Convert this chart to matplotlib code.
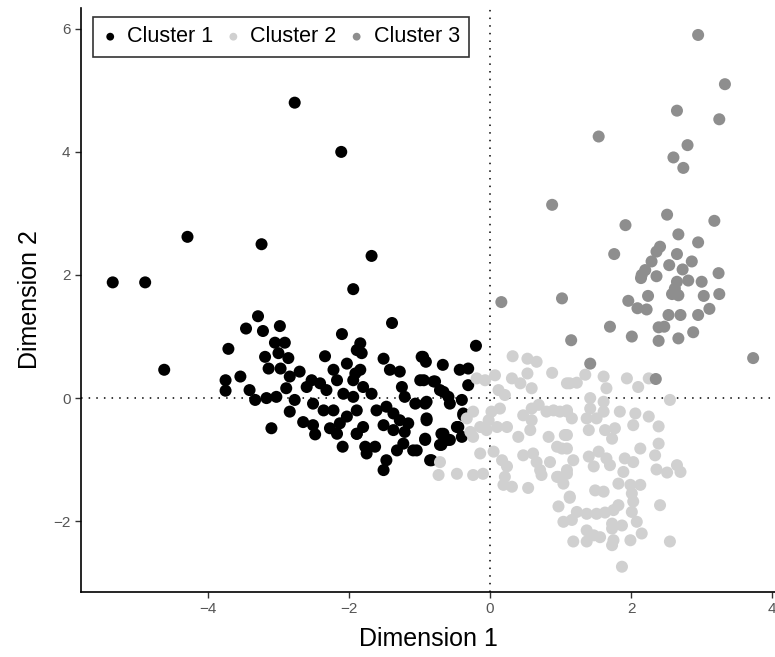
import matplotlib.pyplot as plt
import numpy as np

plt.rcParams['font.family'] = ['Liberation Sans', 'DejaVu Sans']

# 三个聚类的坐标
c1_x = [-2.77, -2.11, -4.29, -3.24, -1.68, -5.35, -4.89, -1.94, -4.62, -1.39, -0.20,
        -3.29, -3.46, -3.22, -2.98, -3.71, -3.05, -2.91, -3.19, -3.00, -2.86, -3.14, -2.97,
        -3.54, -3.75, -3.75, -3.41, -3.33, -3.17, -3.03, -2.89, -2.84, -2.70, -2.77, -2.84,
        -3.10, -2.65, -2.51, -2.48, -2.53, -2.41, -2.60, -2.51, -2.34, -2.10, -1.89, -2.22,
        -2.03, -2.17, -2.32, -2.08, -2.22, -2.36, -2.27, -2.13, -2.03, -2.17, -2.09, -1.94,
        -1.91, -1.89,
        -1.84, -1.82, -1.51, -0.97, -0.91, -0.67, -0.43, -0.31, -0.31, -1.42, -1.28, -1.84,
        -1.80, -1.68, -1.94, -1.25, -1.21, -0.99, -0.80, -0.71, -0.59, -0.57, -0.90, -1.06,
        -0.40, -0.38, -0.47, -0.69, -0.61, -0.71, -0.90, -0.92, -1.09, -0.85, -1.51, -1.47,
        -1.32, -1.23, -1.77, -1.75, -1.63, -1.89, -1.80, -1.61, -1.47, -1.37, -1.28, -1.51,
        -1.37, -1.21, -1.16, -1.89, -1.04,
        -0.94, -0.78, -0.66, -0.38, -0.92, -0.90, -0.45, -0.40, -0.66, -0.57, -0.69, -0.92,
        -0.83, -0.95]
c1_y = [4.80, 4.00, 2.62, 2.50, 2.31, 1.88, 1.88, 1.77, 0.46, 1.22, 0.85,
        1.33, 1.13, 1.09, 1.17, 0.80, 0.90, 0.90, 0.67, 0.73, 0.65, 0.48, 0.48,
        0.35, 0.29, 0.12, 0.13, -0.03, 0.00, 0.02, 0.16, 0.35, 0.43, -0.03, -0.22,
        -0.49, -0.39, -0.44, -0.59, 0.29, 0.24, 0.18, -0.09, 0.68, 1.04, 0.78, 0.46,
        0.56, 0.29, 0.13, 0.07, -0.20, -0.20, -0.49, -0.41, -0.30, -0.58, -0.79, 0.02,
        0.40, -0.58,
        0.89, 0.73, 0.64, 0.67, 0.59, 0.54, 0.46, 0.48, 0.21, 0.46, 0.43, 0.46,
        0.18, 0.07, 0.29, 0.18, 0.02, 0.29, 0.27, 0.13, 0.02, -0.09, -0.06, -0.09,
        -0.03, -0.28, -0.47, -0.58, -0.68, -0.76, -0.36, -0.68, -0.85, -1.01, -1.17, -1.01,
        -0.85, -0.74, -0.79, -0.90, -0.79, -0.58, -0.47, -0.20, -0.14, -0.25, -0.36, -0.44,
        -0.52, -0.55, -0.41, -0.20, -0.85,
        0.29, 0.27, 0.10, -0.25, -0.09, -0.33, -0.47, -0.63, -0.58, -0.68, -0.76, -0.66,
        -1.01, 0.67]

c2_x = [0.32, 0.53, 0.66, 0.88, 0.53, 0.07, -0.07, -0.19, 0.31, 0.43, 0.59, 0.12, 0.21,
        1.09, 0.14, 0.02, -0.02, -0.24, -0.33, -0.14, -0.28, -0.05, 0.10, 0.24, -0.24,
        0.47, 0.59, 0.69, 0.80, 0.90, 0.99, 1.09, 0.59, 0.57, 0.40, 0.83, 1.06, 0.95, 1.09,
        -0.14, 0.05, 0.17, 0.24, 0.47, 0.61, 0.66, 0.85, 0.71, 0.95, 1.09, -0.71, -0.73,
        -0.47, -0.24, -0.10, 0.21, 0.19, 0.31, 0.54,
        1.35, 1.13, 1.23, 1.61, 1.65, 1.94, 2.10, 2.25, 1.42, 1.42, 1.61, 1.61, 1.51, 1.37,
        1.84, 2.06, 2.03, 2.25, 2.39, 2.55, 1.09, 1.16, 1.09, 1.40, 1.63, 1.77, 1.73, 2.13,
        2.39, 2.34, 1.91, 2.03, 1.40, 1.54, 1.65, 1.47, 1.70, 1.18, 1.02, 1.09, 1.89, 2.36,
        2.51, 2.65, 2.70, 1.49, 1.61, 1.82, 1.99, 2.13, 2.01, 1.13,
        0.73, 0.97, 1.04, 2.03, 1.13, 0.97, 1.23, 1.37, 1.51, 1.63, 1.75, 1.82, 1.04, 1.16,
        1.37, 1.47, 1.56, 1.73, 1.73, 1.87, 2.01, 2.08, 2.15, 1.99, 1.75, 1.73, 1.18, 1.37,
        1.87, 2.41, 2.55]
c2_y = [0.68, 0.64, 0.59, 0.41, 0.40, 0.37, 0.29, 0.32, 0.32, 0.24, 0.16, 0.13, 0.05,
        0.24, -0.17, -0.22, -0.36, -0.22, -0.33, -0.47, -0.55, -0.52, -0.47, -0.47, -0.63,
        -0.28, -0.17, -0.11, -0.22, -0.20, -0.22, -0.20, -0.36, -0.52, -0.63, -0.63, -0.60,
        -0.79, -0.82, -0.90, -0.87, -1.01, -1.11, -0.93, -0.90, -1.04, -1.04, -1.17, -1.28,
        -1.17, -1.04, -1.25, -1.23, -1.25, -1.23, -1.28, -1.41, -1.44, -1.46,
        0.38, 0.24, 0.25, 0.35, 0.16, 0.32, 0.18, 0.32, 0.00, -0.17, -0.06, -0.22, -0.33,
        -0.33, -0.22, -0.25, -0.44, -0.30, -0.46, -0.03, -0.22, -0.33, -0.60, -0.52, -0.52,
        -0.49, -0.66, -0.82, -0.74, -0.93, -0.98, -1.04, -0.95, -0.87, -0.98, -1.11, -1.09,
        -1.01, -0.82, -1.23, -1.20, -1.16, -1.21, -1.09, -1.20, -1.50, -1.52, -1.39, -1.41,
        -1.41, -1.55, -1.60,
        -1.25, -1.28, -1.39, -1.68, -1.62, -1.76, -1.85, -1.88, -1.88, -1.86, -1.82, -1.74,
        -2.01, -1.98, -2.15, -2.23, -2.26, -2.04, -2.12, -2.07, -1.85, -2.01, -2.20, -2.31,
        -2.31, -2.39, -2.33, -2.33, -2.74, -1.74, -2.33]

c3_x = [2.95, 3.33, 2.65, 3.25, 1.54, 2.80, 2.60, 2.74,
        2.51, 1.92, 3.18, 2.67, 2.95, 2.41, 2.36, 1.76, 2.65, 2.86, 2.29, 2.54, 2.73, 2.20,
        2.15, 2.14, 2.36, 3.24, 2.81, 2.65, 2.62, 3.00, 2.58, 2.67, 2.24, 3.03, 3.25, 1.96,
        2.09, 2.22, 3.11, 2.95, 2.53, 2.70, 1.70, 2.39, 2.47, 2.88, 2.01, 2.67, 2.39, 1.02,
        1.15, 1.42, 3.73, 0.88, 0.16, 2.35]
c3_y = [5.90, 5.10, 4.67, 4.53, 4.25, 4.11, 3.91, 3.74,
        2.98, 2.81, 2.88, 2.66, 2.53, 2.46, 2.38, 2.34, 2.34, 2.22, 2.22, 2.16, 2.09, 2.08,
        2.00, 1.95, 1.98, 2.03, 1.91, 1.89, 1.78, 1.89, 1.69, 1.67, 1.66, 1.66, 1.69, 1.58,
        1.46, 1.44, 1.45, 1.35, 1.35, 1.35, 1.16, 1.15, 1.16, 1.07, 1.00, 0.97, 0.93, 1.62,
        0.94, 0.56, 0.65, 3.14, 1.56, 0.31]

labels = ['Cluster 1', 'Cluster 2', 'Cluster 3']
colors = ['#000000', '#D0D0D0', '#8E8E8E']

fig = plt.figure(figsize=(7.75, 6.57), dpi=100)
ax = fig.add_axes([0.1045, 0.099, 0.8955, 0.889])

ax.axhline(0, color='black', linestyle=(0, (1, 4)), linewidth=1.1, zorder=1)
ax.axvline(0, color='black', linestyle=(0, (1, 4)), linewidth=1.1, zorder=1)

for xs, ys, lab, col in zip([c1_x, c2_x, c3_x], [c1_y, c2_y, c3_y], labels, colors):
    ax.scatter(xs, ys, s=75, color=col, edgecolors='none', label=lab, zorder=2)

ax.set_xlim(-5.80, 4.04)
ax.set_ylim(-3.15, 6.34)
ax.set_xticks([-4, -2, 0, 2, 4])
ax.set_yticks([-2, 0, 2, 4, 6])
ax.spines['top'].set_visible(False)
ax.spines['right'].set_visible(False)
ax.spines['left'].set_linewidth(1.2)
ax.spines['bottom'].set_linewidth(1.2)
ax.tick_params(axis='both', length=4, width=1, color='#333333', labelsize=11, labelcolor='#555555')
ax.set_xlabel('Dimension 1', fontsize=18, labelpad=8)
ax.set_ylabel('Dimension 2', fontsize=18, labelpad=8)

leg = ax.legend(loc='upper left', ncol=3, fontsize=15.5, frameon=True, fancybox=False,
                handlelength=0.7, handletextpad=0.44, columnspacing=0.58, borderpad=0.45,
                markerscale=0.65, bbox_to_anchor=(0.0173, 0.985), borderaxespad=0)
leg.get_frame().set_edgecolor('black')
leg.get_frame().set_linewidth(1.2)

fig.savefig('out.png', dpi=100)
